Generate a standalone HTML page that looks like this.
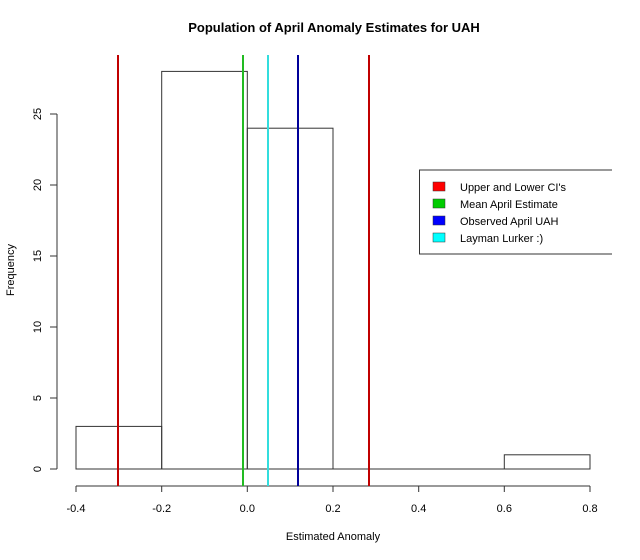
<!DOCTYPE html>
<html><head><style>body{margin:0;background:#fff}</style></head><body>
<svg width="640" height="555" xmlns="http://www.w3.org/2000/svg" font-family="Liberation Sans, Arial, sans-serif" font-size="11">
<rect width="640" height="555" fill="#fff"/>
<text x="334" y="32" text-anchor="middle" font-weight="bold" font-size="13">Population of April Anomaly Estimates for UAH</text>
<g fill="none" stroke="#333" stroke-width="1">
<rect x="76" y="426.4" width="85.7" height="42.6"/>
<rect x="161.7" y="71.4" width="85.6" height="397.6"/>
<rect x="247.3" y="128.2" width="85.7" height="340.8"/>
<line x1="333" y1="469" x2="504.3" y2="469"/>
<rect x="504.3" y="454.8" width="85.7" height="14.2"/>
<line x1="76" y1="486" x2="590" y2="486"/>
<path d="M76 486v6M161.7 486v6M247.3 486v6M333 486v6M418.7 486v6M504.3 486v6M590 486v6"/>
<line x1="57" y1="469" x2="57" y2="114"/>
<path d="M57 469h-7M57 398h-7M57 327h-7M57 256h-7M57 185h-7M57 114h-7"/>
</g>
<g text-anchor="middle">
<text x="76" y="512">-0.4</text><text x="161.7" y="512">-0.2</text><text x="247.3" y="512">0.0</text>
<text x="333" y="512">0.2</text><text x="418.7" y="512">0.4</text><text x="504.3" y="512">0.6</text><text x="590" y="512">0.8</text>
<text x="333" y="540">Estimated Anomaly</text>
</g>
<g text-anchor="middle">
<text transform="translate(41,469) rotate(-90)">0</text>
<text transform="translate(41,398) rotate(-90)">5</text>
<text transform="translate(41,327) rotate(-90)">10</text>
<text transform="translate(41,256) rotate(-90)">15</text>
<text transform="translate(41,185) rotate(-90)">20</text>
<text transform="translate(41,114) rotate(-90)">25</text>
<text transform="translate(14,270) rotate(-90)">Frequency</text>
</g>
<g stroke-width="2">
<line x1="118" y1="55" x2="118" y2="486" stroke="#c00000"/>
<line x1="369" y1="55" x2="369" y2="486" stroke="#c00000"/>
<line x1="243" y1="55" x2="243" y2="486" stroke="#22bb22"/>
<line x1="268" y1="55" x2="268" y2="486" stroke="#33dddd"/>
<line x1="298" y1="55" x2="298" y2="486" stroke="#000099"/>
</g>
<path d="M612 170H419.5V254H612" fill="#fff" stroke="#333"/>
<g stroke="#333" stroke-width="0.5">
<rect x="433" y="182" width="12" height="9" fill="#ff0000"/>
<rect x="433" y="199" width="12" height="9" fill="#00cc00"/>
<rect x="433" y="216" width="12" height="9" fill="#0000ff"/>
<rect x="433" y="233" width="12" height="9" fill="#00ffff"/>
</g>
<text x="460" y="191">Upper and Lower CI's</text>
<text x="460" y="208">Mean April Estimate</text>
<text x="460" y="225">Observed April UAH</text>
<text x="460" y="242">Layman Lurker :)</text>
</svg>
</body></html>
